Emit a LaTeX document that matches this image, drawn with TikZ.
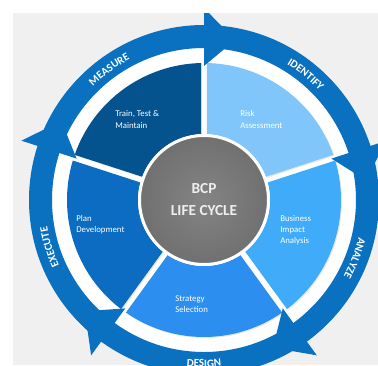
\documentclass[tikz,border=0pt]{standalone}
\usepackage{fontspec}
\setmainfont{Carlito}
\usetikzlibrary{decorations.text,shadows}

\definecolor{ringblue}{RGB}{10,112,192}
\definecolor{segtrain}{RGB}{4,82,142}
\definecolor{segrisk}{RGB}{128,198,251}
\definecolor{segbia}{RGB}{64,172,249}
\definecolor{segstrat}{RGB}{44,143,240}
\definecolor{segplan}{RGB}{11,108,194}
\definecolor{paper}{RGB}{240,240,240}
\definecolor{coremid}{RGB}{132,132,132}
\definecolor{corerim}{RGB}{112,112,112}
\definecolor{coretext}{RGB}{238,238,238}

\newcommand\ringfont{\fontsize{8.3}{9}\selectfont\bfseries}

\begin{document}
\begin{tikzpicture}[x=0.75pt,y=0.75pt,
    seglabel/.style={align=left, anchor=west, text=white, inner sep=0pt,
        font=\fontsize{6.6}{8.3}\selectfont},
    ringlabel/.style={decorate, decoration={text along path, text align=center,
        text color=white, text={|\ringfont|#1}}},
    segshadow/.style={drop shadow={opacity=0.18, shadow xshift=0.8pt, shadow yshift=-0.8pt}}]
    % Radii of the rings
    \def\rcore{64.5}
    \def\rsegin{66}
    \def\rsegout{137}
    \def\rband{152}
    \def\rring{175}
    \def\gap{3}

    \useasboundingbox (-204,-165) rectangle (174,200);
    \fill[paper] (-191,-165) rectangle (174,187);
    \clip (-191,-165) rectangle (174,187);

    % White band under the segments
    \fill[white] (0,0) circle (\rband);

    % Segments, kept apart by gaps of constant width
    \foreach \a/\b/\c in {90/162/segtrain, 18/90/segrisk, -54/18/segbia,
                          -126/-54/segstrat, -198/-126/segplan} {
        \pgfmathsetmacro{\ai}{\a+asin(\gap/\rsegin)}
        \pgfmathsetmacro{\bi}{\b-asin(\gap/\rsegin)}
        \pgfmathsetmacro{\ao}{\a+asin(\gap/\rsegout)}
        \pgfmathsetmacro{\bo}{\b-asin(\gap/\rsegout)}
        \fill[\c, segshadow] (\ai:\rsegin) arc[start angle=\ai, end angle=\bi, radius=\rsegin]
            -- (\bo:\rsegout) arc[start angle=\bo, end angle=\ao, radius=\rsegout] -- cycle;
    }

    % Outer ring and its barbs
    \fill[ringblue, even odd rule] (0,0) circle (\rring) (0,0) circle (\rband);
    \foreach \a in {90,18,-54,-126,-198} {
        \fill[ringblue] (\a:192) -- (\a-11:163) -- (\a:134) -- cycle;
    }

    % Phase names on the ring
    \path[ringlabel=MEASURE] (156:159) arc[start angle=156, end angle=96, radius=159];
    \path[ringlabel=IDENTIFY] (82:159) arc[start angle=82, end angle=20, radius=159];
    \path[ringlabel=ANALYZE] (10:159) arc[start angle=10, end angle=-52, radius=159];
    \path[ringlabel=EXECUTE] (228:159) arc[start angle=228, end angle=166, radius=159];
    \path[ringlabel=DESIGN] (-120:167) arc[start angle=-120, end angle=-60, radius=167];

    % Core
    \node[circle, minimum size=96.75pt, draw=white, line width=2.25pt,
          inner color=coremid, outer color=corerim, align=center, text=coretext,
          font=\fontsize{11.5}{16.5}\selectfont\bfseries] (core) at (0,0) {BCP\\LIFE CYCLE};

    % Labels in the segments
    \node[seglabel] (train) at (-89,80.5) {Train, Test \&\\Maintain};
    \node[seglabel] (risk) at (36,80.5) {Risk\\Assessment};
    \node[seglabel] (bia) at (76,-30) {Business\\Impact\\Analysis};
    \node[seglabel] (strat) at (-29,-104.5) {Strategy\\Selection};
    \node[seglabel] (plan) at (-128,-24.5) {Plan\\Development};
\end{tikzpicture}
\end{document}
